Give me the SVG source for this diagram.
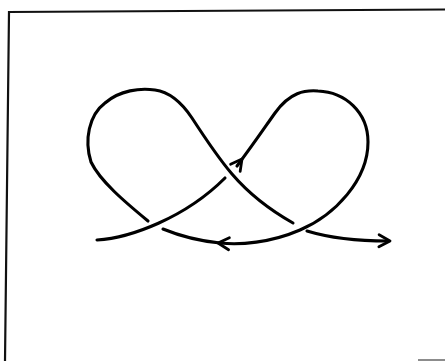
<svg xmlns="http://www.w3.org/2000/svg" xmlns:xlink="http://www.w3.org/1999/xlink" width="445" height="361" viewBox="0 0 445 361">
  <style>
    .frame { fill: none; stroke: #111; stroke-width: 2.2; stroke-linecap: square; }
    .strand { fill: none; stroke: #000; stroke-width: 3.1; stroke-linecap: round; stroke-linejoin: round; }
    .head { fill: none; stroke: #000; stroke-width: 2.8; stroke-linecap: round; stroke-linejoin: round; }
  </style>
  <defs>
    <path id="chev" d="M-11,-6 L0,0 L-11,6"/>
  </defs>
  <rect width="445" height="361" fill="#fff"/>
  <g id="frame">
    <path class="frame" d="M445,9.5 L9,12 L5,361"/>
    <path d="M418,360 L445,360" stroke="#666" stroke-width="1.5" fill="none"/>
  </g>
  <g id="connectors">
    <path class="strand" d="M97,240 C130,238 185,218 225,178"/>
    <path class="strand" d="M237,166 C255,142 265,127 275,113 C290,92 305,90 318,91 C345,92 368,112 368,142 C368,180 335,215 300,230 C270,243 240,245 220,243 C200,241 180,236 163,229"/>
    <path class="strand" d="M148,221 C125,202 100,181 91,162 C84,140 89,115 105,103 C120,90 140,88 155,90 C170,92 182,103 192,118 C205,138 220,160 232,174 C250,195 270,210 293,223"/>
    <path class="strand" d="M307,231 C330,238 360,241 388,241"/>
  </g>
  <g id="arrowheads">
    <use class="head" xlink:href="#chev" transform="translate(242,159) rotate(-53)"/>
    <use class="head" xlink:href="#chev" transform="translate(218,243) rotate(184)"/>
    <use class="head" xlink:href="#chev" transform="translate(390,241) rotate(1)"/>
  </g>
</svg>
